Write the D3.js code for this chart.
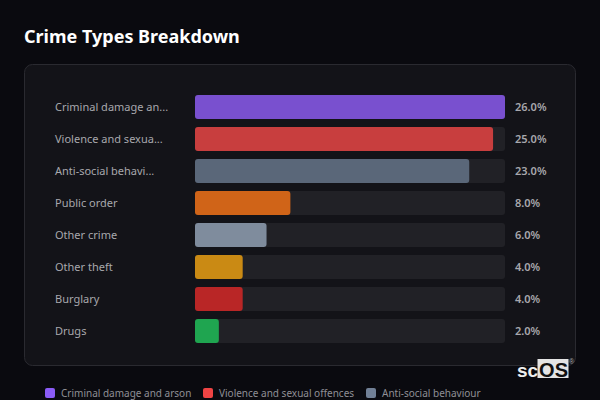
<!DOCTYPE html>
<html>
<head>
<meta charset="utf-8">
<script src="https://cdnjs.cloudflare.com/ajax/libs/d3/7.8.5/d3.min.js"></script>
<style>
html, body { margin: 0; padding: 0; background: #0a0a0f; overflow: hidden; }
svg { display: block; font-family: "Noto Sans", sans-serif; }
</style>
</head>
<body>
<svg width="600" height="400"></svg>
<script>
var categories = ['Criminal damage and arson', 'Violence and sexual offences', 'Anti-social behaviour', 'Public order', 'Other crime', 'Other theft', 'Burglary', 'Drugs'];
var labels = ['Criminal damage an...', 'Violence and sexua...', 'Anti-social behavi...', 'Public order', 'Other crime', 'Other theft', 'Burglary', 'Drugs'];
var values = [26, 25, 23, 8, 6, 4, 4, 2];
var barColors = ['#7950cf', '#c83e3e', '#5a6779', '#d06418', '#7f8c9d', '#ca8a14', '#b92626', '#1fa550'];
var legendNames = ['Criminal damage and arson', 'Violence and sexual offences', 'Anti-social behaviour'];
var legendColors = ['#8b5cf6', '#ef4444', '#718096'];

var svg = d3.select('svg');

var y = d3.scaleBand().domain(categories).range([91, 347]).paddingInner(0.25).paddingOuter(0.125);
var x = d3.scaleLinear().domain([0, 26]).range([195, 505]);

svg.append('text').attr('x', 24).attr('y', 43)
	.style('font-size', '18px').style('font-weight', 700).attr('fill', '#fff')
	.text('Crime Types Breakdown');

// card
svg.append('rect').attr('x', 24.5).attr('y', 64.5).attr('width', 551).attr('height', 301).attr('rx', 8)
	.attr('fill', '#131318').attr('stroke', '#2a2a30');

var rows = svg.append('g').selectAll('g').data(categories).join('g');

rows.append('rect').attr('x', x(0)).attr('y', function (d) { return y(d); })
	.attr('width', x(26) - x(0)).attr('height', y.bandwidth()).attr('rx', 3).attr('fill', '#212126');

rows.append('rect').attr('x', x(0)).attr('y', function (d) { return y(d); })
	.attr('width', function (d, i) { return x(values[i]) - x(0); })
	.attr('height', y.bandwidth()).attr('rx', 3)
	.attr('fill', function (d, i) { return barColors[i]; });

rows.append('text').attr('x', 55).attr('y', function (d) { return y(d) + y.bandwidth() / 2 + 4; })
	.style('font-size', '11px').attr('fill', '#a8a8ad')
	.text(function (d, i) { return labels[i]; });

rows.append('text').attr('x', 515).attr('y', function (d) { return y(d) + y.bandwidth() / 2 + 4; })
	.style('font-size', '11px').style('font-weight', 600).attr('fill', '#a8a8ad')
	.text(function (d, i) { return values[i].toFixed(1) + '%'; });

// legend
var legendX = [45, 203, 366];
var legend = svg.append('g').selectAll('g').data(legendNames).join('g');
legend.append('rect').attr('x', function (d, i) { return legendX[i]; }).attr('y', 388).attr('width', 10).attr('height', 10).attr('rx', 2)
	.attr('fill', function (d, i) { return legendColors[i]; });
legend.append('text').attr('x', function (d, i) { return legendX[i] + 16; }).attr('y', 397)
	.style('font-size', '10px').attr('fill', '#8f8f95').text(function (d) { return d; });

// watermark
svg.append('rect').attr('x', 537.5).attr('y', 359).attr('width', 31).attr('height', 19).attr('fill', '#e4e4e4');
svg.append('text').attr('x', 517).attr('y', 377).style('font-family', 'Liberation Sans').style('font-size', '19px').style('font-weight', 700).attr('fill', '#eee').attr('textLength', 21).text('sc');
svg.append('text').attr('x', 539).attr('y', 377).style('font-family', 'Liberation Sans').style('font-size', '20px').style('font-weight', 700).attr('fill', '#111').attr('textLength', 29).text('OS');
svg.append('text').attr('x', 569).attr('y', 364).style('font-family', 'Liberation Sans').style('font-size', '7px').attr('fill', '#aaa').text('®');
</script>
</body>
</html>
